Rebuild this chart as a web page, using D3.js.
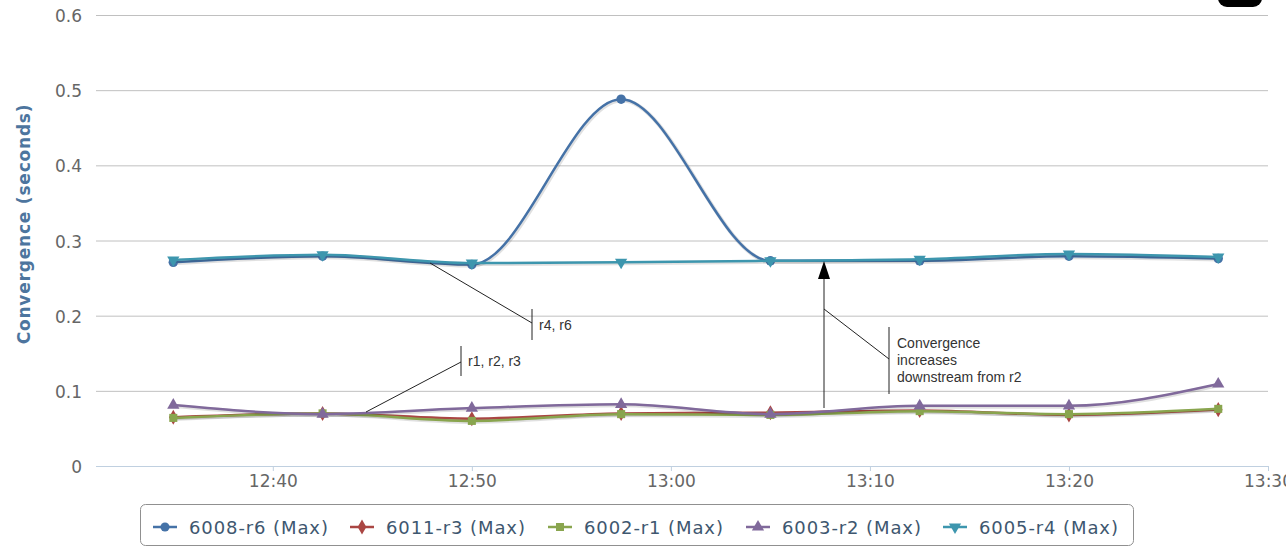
<!DOCTYPE html>
<html lang="en">
<head>
<meta charset="utf-8">
<title>Convergence</title>
<script src="https://d3js.org/d3.v7.min.js"></script>
<style>
  body { margin: 0; background: #fff; }
</style>
</head>
<body>
<script>
// data
var times = ["12:35:00", "12:42:30", "12:50:00", "12:57:30", "13:05:00", "13:12:30", "13:20:00", "13:27:30"];
var r6 = [0.271, 0.279, 0.268, 0.488, 0.273, 0.273, 0.279, 0.276];
var r3 = [0.065, 0.070, 0.063, 0.070, 0.071, 0.074, 0.068, 0.075];
var r1 = [0.064, 0.070, 0.060, 0.069, 0.068, 0.073, 0.069, 0.076];
var r2 = [0.081, 0.069, 0.077, 0.082, 0.069, 0.080, 0.080, 0.109];
var r4 = [0.274, 0.281, 0.270, 0.271, 0.273, 0.275, 0.282, 0.278];
var seriesNames = ["6008-r6 (Max)", "6011-r3 (Max)", "6002-r1 (Max)", "6003-r2 (Max)", "6005-r4 (Max)"];
var yTicks = [0, 0.1, 0.2, 0.3, 0.4, 0.5, 0.6];

var parse = d3.timeParse("%H:%M:%S");
var colors = ["#4572A7", "#AA4643", "#89A54E", "#80699B", "#3D96AE"];
var symbols = [d3.symbolCircle, d3.symbolDiamond, d3.symbolSquare, d3.symbolTriangle, "down"];
var values = [r6, r3, r1, r2, r4];

var width = 1286, height = 546;
var svg = d3.select("body").append("svg")
    .attr("width", width).attr("height", height)
    .style("font-family", "'DejaVu Sans', sans-serif");

var x = d3.scaleTime()
    .domain([parse("12:31:07"), parse("13:30:00")])
    .range([96, 1268]);
var y = d3.scaleLinear().domain([0, 0.6]).range([466, 15]);

// grid
svg.append("g").selectAll("line")
    .data(yTicks.slice(1))
    .enter().append("line")
    .attr("x1", 96).attr("x2", 1268)
    .attr("y1", function (d) { return y(d) + 0.5; })
    .attr("y2", function (d) { return y(d) + 0.5; })
    .attr("stroke", "#C0C0C0");

// y labels
svg.append("g").selectAll("text")
    .data(yTicks)
    .enter().append("text")
    .attr("x", 82)
    .attr("y", function (d) { return y(d) + 7; })
    .attr("text-anchor", "end")
    .attr("fill", "#666")
    .style("font-size", "17px")
    .text(function (d) { return d === 0 ? "0" : d3.format(".1f")(d); });

svg.append("text")
    .attr("transform", "translate(30,224) rotate(-90)")
    .attr("text-anchor", "middle")
    .attr("fill", "#4d759e")
    .style("font-size", "17px")
    .style("font-weight", "bold")
    .style("letter-spacing", "0.8px")
    .text("Convergence (seconds)");

// x axis
var xAxis = d3.axisBottom(x)
    .ticks(d3.timeMinute.every(10))
    .tickFormat(d3.timeFormat("%H:%M"))
    .tickSize(5)
    .tickPadding(4);
var gx = svg.append("g").attr("transform", "translate(0,466)").call(xAxis);
gx.select(".domain").attr("stroke", "#C0D0E0").attr("d", "M96,0.5H1268");
gx.selectAll(".tick line").attr("stroke", "#C0D0E0");
gx.selectAll(".tick text").attr("fill", "#666").style("font-size", "17px").style("font-family", "'DejaVu Sans', sans-serif");

// series
var line = d3.line()
    .x(function (d) { return x(d.t); })
    .y(function (d) { return y(d.v); })
    .curve(d3.curveMonotoneX);

function symPath(s, size) {
    if (s === "down") {
        return d3.symbol().type(d3.symbolTriangle).size(size)();
    }
    return d3.symbol().type(s).size(size)();
}

values.forEach(function (vals, i) {
    var pts = vals.map(function (v, j) { return { t: parse(times[j]), v: v }; });
    var g = svg.append("g");
    // shadow
    g.append("path")
        .attr("d", line(pts))
        .attr("fill", "none")
        .attr("stroke", "rgba(0,0,0,0.12)")
        .attr("stroke-width", 4)
        .attr("transform", "translate(1,1)");
    g.append("path")
        .attr("d", line(pts))
        .attr("fill", "none")
        .attr("stroke", colors[i])
        .attr("stroke-width", 2.5);
    g.selectAll(".m")
        .data(pts)
        .enter().append("path")
        .attr("transform", function (d) {
            return "translate(" + x(d.t) + "," + y(d.v) + ")" + (symbols[i] === "down" ? " rotate(180)" : "");
        })
        .attr("d", symPath(symbols[i], i === 0 ? 70 : 65))
        .attr("fill", colors[i]);
});

// annotations
var ann = svg.append("g").attr("stroke", "#222").attr("stroke-width", 1).attr("fill", "none");
ann.append("line").attr("x1", 430).attr("y1", 263).attr("x2", 532).attr("y2", 323);
ann.append("line").attr("x1", 532).attr("y1", 309).attr("x2", 532).attr("y2", 340);
ann.append("line").attr("x1", 366).attr("y1", 412).attr("x2", 461).attr("y2", 362);
ann.append("line").attr("x1", 461).attr("y1", 346).attr("x2", 461).attr("y2", 376);
ann.append("line").attr("x1", 824).attr("y1", 408).attr("x2", 824).attr("y2", 276);
ann.append("line").attr("x1", 824).attr("y1", 309).attr("x2", 889).attr("y2", 359);
ann.append("line").attr("x1", 889).attr("y1", 327).attr("x2", 889).attr("y2", 394);
svg.append("path")
    .attr("d", "M824,261L830,279L818,279Z")
    .attr("fill", "#000");

var annText = svg.append("g")
    .attr("fill", "#333")
    .style("font-family", "'Liberation Sans', Arial, sans-serif")
    .style("font-size", "14px");
annText.append("text").attr("x", 539).attr("y", 330).text("r4, r6");
annText.append("text").attr("x", 468).attr("y", 366).text("r1, r2, r3");
annText.append("text").attr("x", 897).attr("y", 348).text("Convergence");
annText.append("text").attr("x", 897).attr("y", 365).text("increases");
annText.append("text").attr("x", 897).attr("y", 382).text("downstream from r2");

// export button stub
svg.append("rect")
    .attr("x", 1218).attr("y", -12).attr("width", 44).attr("height", 19)
    .attr("rx", 9).attr("fill", "#000");

// legend
svg.append("rect")
    .attr("x", 140.5).attr("y", 504.5).attr("width", 993).attr("height", 41)
    .attr("rx", 5).attr("fill", "none").attr("stroke", "#909090");

var legX = [153, 350, 548, 746, 943];
var leg = svg.append("g").selectAll("g")
    .data(seriesNames)
    .enter().append("g")
    .attr("transform", function (d, i) { return "translate(" + legX[i] + ",527)"; });
leg.append("line")
    .attr("x1", 0).attr("x2", 24)
    .attr("stroke", function (d, i) { return colors[i]; })
    .attr("stroke-width", 2.5);
leg.append("path")
    .attr("transform", function (d, i) { return "translate(12,0)" + (symbols[i] === "down" ? " rotate(180)" : ""); })
    .attr("d", function (d, i) { return symPath(symbols[i], 65); })
    .attr("fill", function (d, i) { return colors[i]; });
leg.append("text")
    .attr("x", 36).attr("y", 7)
    .attr("fill", "#3E576F")
    .style("font-size", "18px")
    .style("letter-spacing", "0.9px")
    .text(function (d) { return d; });
</script>
</body>
</html>
